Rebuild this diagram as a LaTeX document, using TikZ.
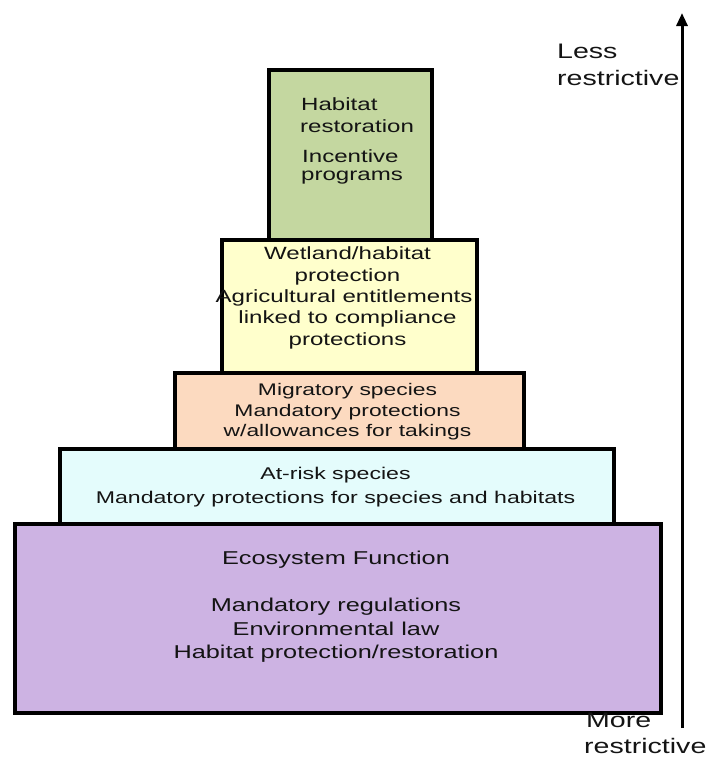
\documentclass[tikz,border=0pt]{standalone}
\usepackage{fontspec}
\usepackage{graphicx}
\setmainfont{Liberation Sans}
\usetikzlibrary{arrows.meta}
\definecolor{boxgreen}{HTML}{C4D7A0}
\definecolor{boxyellow}{HTML}{FFFFCC}
\definecolor{boxpeach}{HTML}{FCDAC0}
\definecolor{boxcyan}{HTML}{E4FCFC}
\definecolor{boxpurple}{HTML}{CDB3E3}
\definecolor{txtcol}{HTML}{141414}
\newcommand\sx[1]{\scalebox{1.36}[1]{#1}}
\tikzset{
  tier/.style={draw=black, line width=3.5pt, rectangle, inner sep=0pt, anchor=north west},
  txt/.style={inner sep=0pt, anchor=base, text=txtcol},
  txtl/.style={inner sep=0pt, anchor=base west, text=txtcol},
  fA/.style={font=\fontsize{17.7}{21}\selectfont},
  fB/.style={font=\fontsize{16.8}{20}\selectfont},
  fC/.style={font=\fontsize{17}{20}\selectfont},
  fD/.style={font=\fontsize{18.6}{22}\selectfont},
  fL/.style={font=\fontsize{21}{24}\selectfont},
}
\begin{document}
\begin{tikzpicture}[x=1pt,y=-1pt]
\useasboundingbox (0,0) rectangle (707,758);
% tiers
\node[tier, fill=boxpurple, minimum width=646pt, minimum height=189pt] (purple) at (13,522) {};
\node[tier, fill=boxcyan, minimum width=554pt, minimum height=75pt] (cyan) at (58,447) {};
\node[tier, fill=boxpeach, minimum width=349pt, minimum height=76pt] (peach) at (173,371) {};
\node[tier, fill=boxyellow, minimum width=255pt, minimum height=133pt] (yellow) at (220,238) {};
\node[tier, fill=boxgreen, minimum width=163pt, minimum height=170pt] (green) at (267,68) {};
% green text
\node[txtl, fA] (g1) at (301,110) {\sx{Habitat}};
\node[txtl, fA] (g2) at (300,132) {\sx{restoration}};
\node[txtl, fA] (g3) at (302,162) {\sx{Incentive}};
\node[txtl, fA] (g4) at (301,180) {\sx{programs}};
% yellow text
\node[txt, fA] (y1) at (347.5,259.5) {\sx{Wetland/habitat}};
\node[txt, fA] (y2) at (347.5,281) {\sx{protection}};
\node[txt, fA] (y3) at (344,302) {\sx{Agricultural entitlements}};
\node[txt, fA] (y4) at (347.5,323.5) {\sx{linked to compliance}};
\node[txt, fA] (y5) at (347.5,345) {\sx{protections}};
% peach text
\node[txt, fB] (p1) at (347.5,395) {\sx{Migratory species}};
\node[txt, fB] (p2) at (347.5,416) {\sx{Mandatory protections}};
\node[txt, fB] (p3) at (347.5,436) {\sx{w/allowances for takings}};
% cyan text
\node[txt, fC] (c1) at (335.5,479) {\sx{At-risk species}};
\node[txt, fC] (c2) at (335.5,503) {\sx{Mandatory protections for species and habitats}};
% purple text
\node[txt, fD] (u1) at (336,564) {\sx{Ecosystem Function}};
\node[txt, fD] (u2) at (336,611.5) {\sx{Mandatory regulations}};
\node[txt, fD] (u3) at (336,635) {\sx{Environmental law}};
\node[txt, fD] (u4) at (336,658.5) {\sx{Habitat protection/restoration}};
% axis
\coordinate (abot) at (682,728);
\coordinate (atop) at (682,13);
\draw[line width=3pt, -{Triangle[length=13pt,width=11pt]}] (abot) -- (atop);
\node[txtl, fL] (less1) at (557,58) {\sx{Less}};
\node[txtl, fL] (less2) at (557,85) {\sx{restrictive}};
\node[txtl, fL] (more1) at (586,727) {\sx{More}};
\node[txtl, fL] (more2) at (584,753) {\sx{restrictive}};
\end{tikzpicture}
\end{document}
